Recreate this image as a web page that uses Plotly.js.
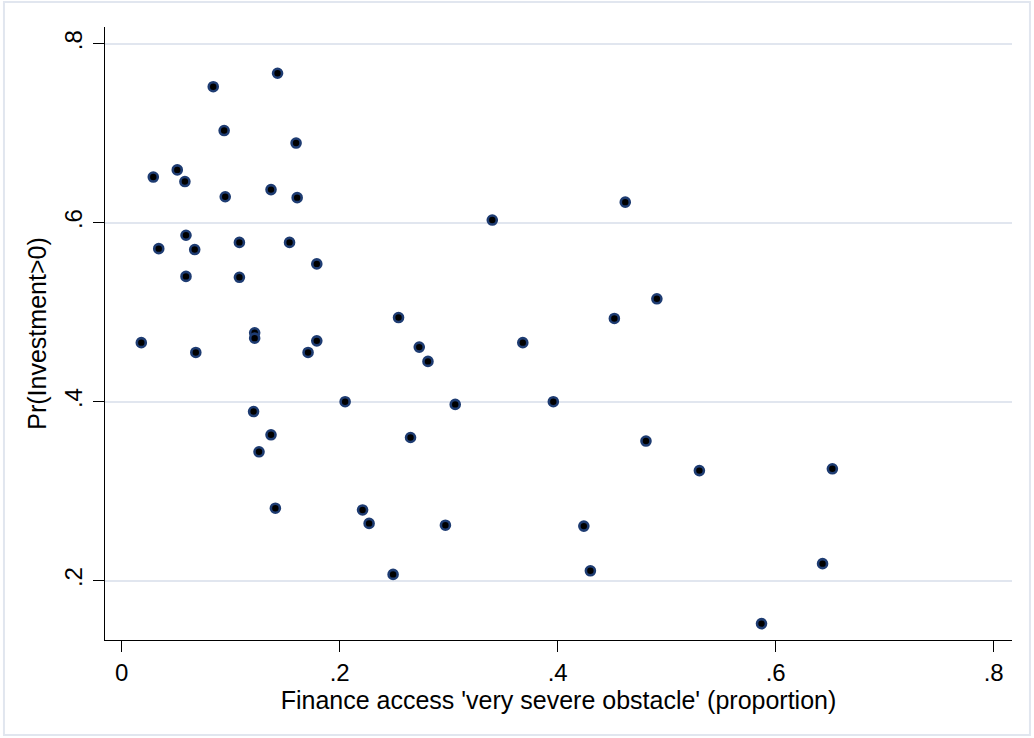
<!DOCTYPE html>
<html>
<head>
<meta charset="utf-8">
<script src="https://cdn.plot.ly/plotly-3.0.1.min.js"></script>
<style>html,body{margin:0;padding:0;background:#fff;}#chart{width:1034px;height:738px;}</style>
</head>
<body>
<div id="chart"></div>
<script>
// Finance access 'very severe obstacle' (proportion)
var financeAccess = [
  0.084, 0.143, 0.094, 0.160, 0.029, 0.051, 0.058, 0.095, 0.137, 0.161,
  0.059, 0.034, 0.067, 0.108, 0.154, 0.179, 0.059, 0.108, 0.018, 0.122,
  0.122, 0.179, 0.068, 0.171, 0.121, 0.137, 0.126, 0.141, 0.205, 0.340,
  0.254, 0.273, 0.281, 0.368, 0.306, 0.396, 0.265, 0.221, 0.227, 0.297,
  0.249, 0.462, 0.491, 0.452, 0.481, 0.530, 0.652, 0.424, 0.430, 0.643,
  0.587
];
// Pr(Investment>0)
var prInvestment = [
  0.752, 0.767, 0.703, 0.689, 0.651, 0.659, 0.646, 0.629, 0.637, 0.628,
  0.586, 0.571, 0.570, 0.578, 0.578, 0.554, 0.540, 0.539, 0.466, 0.477,
  0.471, 0.468, 0.455, 0.455, 0.389, 0.363, 0.344, 0.281, 0.400, 0.603,
  0.494, 0.461, 0.445, 0.466, 0.397, 0.400, 0.360, 0.279, 0.264, 0.262,
  0.207, 0.623, 0.515, 0.493, 0.356, 0.323, 0.325, 0.261, 0.211, 0.219,
  0.152
];
var xTickVals = [0, 0.2, 0.4, 0.6, 0.8];
var xTickText = ['0', '.2', '.4', '.6', '.8'];
var yTickVals = [0.2, 0.4, 0.6, 0.8];
var yTickText = ['.2', '.4', '.6', '.8'];

var FONT = 'Liberation Sans, Arial, Helvetica, sans-serif';

var trace = {
  type: 'scatter',
  mode: 'markers',
  x: financeAccess,
  y: prInvestment,
  marker: {size: 9, color: '#000000', line: {color: '#1e3c72', width: 2.6}},
  hoverinfo: 'x+y',
  showlegend: false
};

var layout = {
  width: 1034, height: 738,
  margin: {l: 105, r: 22, t: 27, b: 98, pad: 0},
  paper_bgcolor: '#ffffff',
  plot_bgcolor: '#ffffff',
  font: {family: FONT, size: 24, color: '#000000'},
  xaxis: {
    range: [-0.0153, 0.8168],
    tickvals: xTickVals, ticktext: xTickText,
    ticks: 'outside', ticklen: 11, tickwidth: 1, tickcolor: '#000',
    ticklabelstandoff: 0,
    showgrid: false, zeroline: false,
    showline: true, linecolor: '#000', linewidth: 1,
    tickfont: {family: FONT, size: 24, color: '#000'},
    title: {text: "Finance access 'very severe obstacle' (proportion)", font: {family: FONT, size: 25, color: '#000'}, standoff: 0}
  },
  yaxis: {
    range: [0.1337, 0.8187],
    tickvals: yTickVals, ticktext: yTickText,
    tickangle: -90,
    ticks: 'outside', ticklen: 11, tickwidth: 1, tickcolor: '#000',
    ticklabelstandoff: 1,
    showgrid: true, gridcolor: '#e1e6ef', gridwidth: 2,
    zeroline: false,
    showline: true, linecolor: '#000', linewidth: 1,
    tickfont: {family: FONT, size: 24, color: '#000'},
    title: {text: 'Pr(Investment>0)', font: {family: FONT, size: 25, color: '#000'}, standoff: 6}
  },
  shapes: [{
    type: 'rect', xref: 'paper', yref: 'paper',
    x0: -0.1114, x1: 1.0198, y0: -0.155, y1: 1.0408,
    line: {color: '#e1e6ef', width: 2}, fillcolor: 'rgba(0,0,0,0)', layer: 'below'
  }]
};

Plotly.newPlot('chart', [trace], layout, {displayModeBar: false, staticPlot: true});
</script>
</body>
</html>
